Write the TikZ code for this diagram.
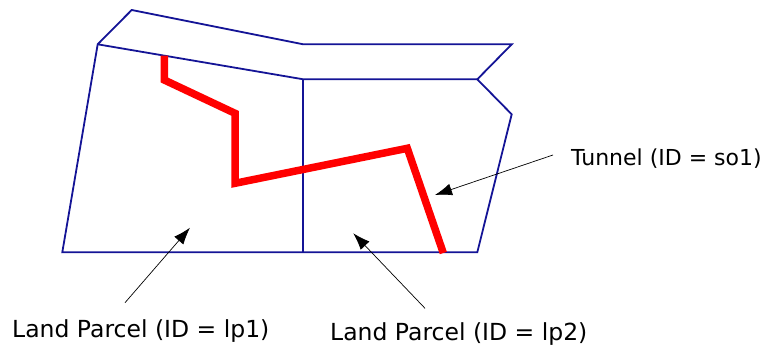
\documentclass[tikz,border=0pt]{standalone}
\usepackage{fontspec}
\setmainfont{DejaVu Sans}
\usetikzlibrary{arrows.meta}
\definecolor{parcelblue}{RGB}{20,20,150}
\tikzset{
  parcel/.style={draw=parcelblue, line width=1.8pt, line join=miter},
  tunnel/.style={draw=red, line width=7.5pt, line join=miter},
  pointer/.style={draw=black, line width=0.7pt, -{Latex[length=17pt,width=12pt]}},
  lbl/.style={inner sep=0pt, anchor=base west, font=\fontsize{23.5}{27}\selectfont},
  tlbl/.style={lbl, font=\fontsize{22}{26}\selectfont}
}
\begin{document}
\begin{tikzpicture}[x=1pt,y=-1pt]
\useasboundingbox (0,0) rectangle (771,346);
% parcels
\draw[parcel] (131.7,10) -- (303.3,44.3) -- (511.7,44.3) -- (477.3,79.3) -- (511.7,114.3)
  -- (477.3,252.3) -- (62.3,252.3) -- (97.7,44.3) -- cycle;
\draw[parcel] (97.7,44.3) -- (303.3,79.3) -- (477.3,79.3);
\draw[parcel] (303.3,79.3) -- (303.3,252.3);
% tunnel
\draw[tunnel] (164.3,55.5) -- (164.3,80) -- (235,113.3) -- (235,183.3) -- (407.3,148.3) -- (443.3,253);
% labels
\node[tlbl] (tun) at (571,165) {Tunnel (ID = so1)};
\node[lbl] (lp1) at (12,337) {Land Parcel (ID = lp1)};
\node[lbl] (lp2) at (330,340) {Land Parcel (ID = lp2)};
% pointer ends
\coordinate (tunT) at (553,155);
\coordinate (tunH) at (435,195);
\coordinate (lp1T) at (125,302.7);
\coordinate (lp1H) at (190,227.7);
\coordinate (lp2T) at (425,308.3);
\coordinate (lp2H) at (353.3,233.3);
\draw[pointer] (tunT) -- (tunH);
\draw[pointer] (lp1T) -- (lp1H);
\draw[pointer] (lp2T) -- (lp2H);
\end{tikzpicture}
\end{document}
